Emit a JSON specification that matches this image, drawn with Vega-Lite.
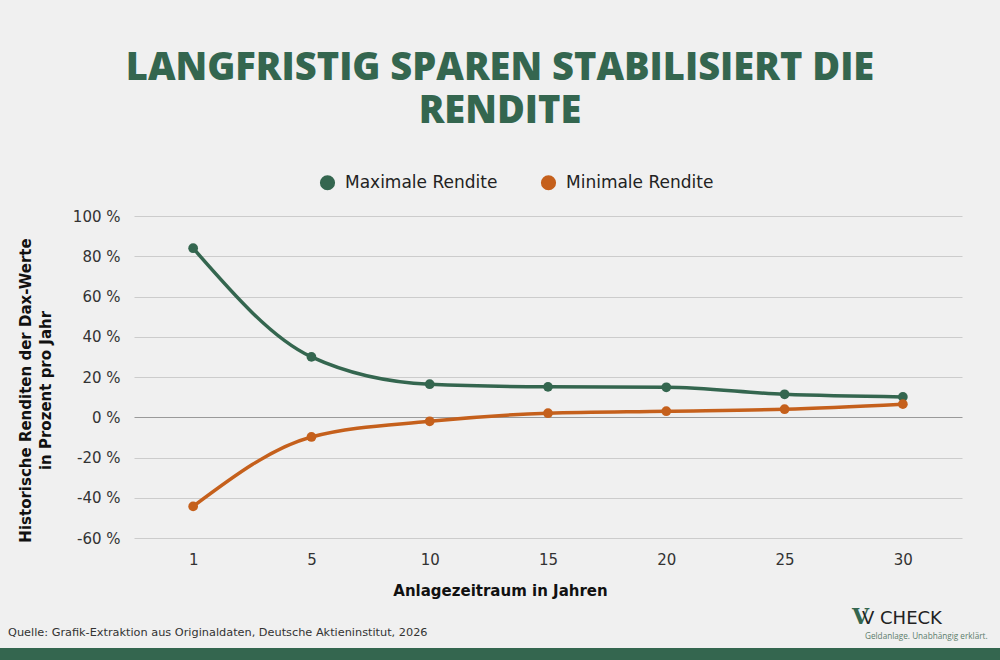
{
  "$schema": "https://vega.github.io/schema/vega-lite/v6.json",
  "width": 828,
  "height": 322,
  "autosize": {"type": "none"},
  "padding": {"left": 134, "top": 216, "right": 38, "bottom": 122},
  "background": "#F0F0F0",
  "title": {
    "text": ["LANGFRISTIG SPAREN STABILISIERT DIE", "RENDITE"],
    "anchor": "middle",
    "frame": "group",
    "dx": -48,
    "font": "Open Sans",
    "fontSize": 38,
    "fontWeight": 800,
    "lineHeight": 43,
    "color": "#34664F",
    "offset": 43
  },
  "config": {
    "view": {"stroke": null},
    "font": "DejaVu Sans",
    "axis": {"labelFont": "DejaVu Sans", "titleFont": "DejaVu Sans", "labelColor": "#333333", "titleColor": "#111111"}
  },
  "layer": [
    {
      "data": {
        "values": [
          {"jahre": 1, "serie": "Maximale Rendite", "rendite": 84},
          {"jahre": 5, "serie": "Maximale Rendite", "rendite": 30},
          {"jahre": 10, "serie": "Maximale Rendite", "rendite": 16.4},
          {"jahre": 15, "serie": "Maximale Rendite", "rendite": 15.1},
          {"jahre": 20, "serie": "Maximale Rendite", "rendite": 14.9},
          {"jahre": 25, "serie": "Maximale Rendite", "rendite": 11.4},
          {"jahre": 30, "serie": "Maximale Rendite", "rendite": 10.1},
          {"jahre": 1, "serie": "Minimale Rendite", "rendite": -44.3},
          {"jahre": 5, "serie": "Minimale Rendite", "rendite": -9.8},
          {"jahre": 10, "serie": "Minimale Rendite", "rendite": -2.0},
          {"jahre": 15, "serie": "Minimale Rendite", "rendite": 2.0},
          {"jahre": 20, "serie": "Minimale Rendite", "rendite": 3.0},
          {"jahre": 25, "serie": "Minimale Rendite", "rendite": 4.0},
          {"jahre": 30, "serie": "Minimale Rendite", "rendite": 6.5}
        ]
      },
      "encoding": {
        "x": {
          "field": "jahre",
          "type": "ordinal",
          "scale": {"type": "point", "padding": 0.5},
          "axis": {
            "title": "Anlagezeitraum in Jahren",
            "labelAngle": 0,
            "labelFontSize": 15,
            "labelPadding": 14,
            "ticks": false,
            "domain": false,
            "grid": false,
            "titleFontSize": 15,
            "titleFontWeight": 600,
            "titleX": 366,
            "titleY": 57,
            "titleAnchor": null,
            "titleAlign": "center",
            "titleBaseline": "alphabetic"
          }
        },
        "y": {
          "field": "rendite",
          "type": "quantitative",
          "scale": {"domain": [-60, 100], "nice": false, "zero": false},
          "axis": {
            "title": ["Historische Renditen der Dax-Werte", "in Prozent pro Jahr"],
            "values": [-60, -40, -20, 0, 20, 40, 60, 80, 100],
            "labelExpr": "datum.value + ' %'",
            "labelFontSize": 15,
            "labelPadding": 14,
            "ticks": false,
            "domain": false,
            "grid": true,
            "gridColor": {"condition": {"test": "datum.value === 0", "value": "#9a9a9a"}, "value": "#cccccc"},
            "gridWidth": 1.2,
            "titleFontSize": 15,
            "titleFontWeight": 600,
            "titleLineHeight": 20,
            "titleX": -109,
            "titleY": 174,
            "titleAngle": -90,
            "titleAlign": "center",
            "titleBaseline": "middle"
          }
        },
        "color": {
          "field": "serie",
          "type": "nominal",
          "scale": {"domain": ["Maximale Rendite", "Minimale Rendite"], "range": ["#34664F", "#C5601C"]},
          "legend": {
            "title": null,
            "orient": "none",
            "direction": "horizontal",
            "legendX": 185,
            "legendY": -42,
            "symbolType": "circle",
            "symbolSize": 230,
            "symbolStrokeWidth": 0,
            "labelFontSize": 17,
            "labelColor": "#222222",
            "labelFont": "DejaVu Sans",
            "labelOffset": 9,
            "columnPadding": 42,
            "encode": {
              "symbols": {"update": {"fill": {"scale": "color", "field": "value"}, "stroke": {"value": "transparent"}}}
            }
          }
        }
      },
      "layer": [
        {"mark": {"type": "line", "interpolate": "monotone", "strokeWidth": 3.5}},
        {"mark": {"type": "point", "filled": true, "size": 95, "opacity": 1}}
      ]
    },
    {
      "data": {"values": [{}]},
      "mark": {"type": "rect", "fill": "#34664F"},
      "encoding": {"x": {"value": -134}, "x2": {"value": 866}, "y": {"value": 432}, "y2": {"value": 444}}
    },
    {
      "data": {"values": [{}]},
      "mark": {"type": "text", "text": "Quelle: Grafik-Extraktion aus Originaldaten, Deutsche Aktieninstitut, 2026", "align": "left", "baseline": "alphabetic", "fontSize": 11.3, "font": "DejaVu Sans", "color": "#333333"},
      "encoding": {"x": {"value": -126}, "y": {"value": 420}}
    },
    {
      "data": {"values": [{}]},
      "mark": {"type": "text", "text": "V", "align": "left", "baseline": "alphabetic", "fontSize": 22, "font": "DejaVu Serif", "fontWeight": "bold", "color": "#34664F"},
      "encoding": {"x": {"value": 718}, "y": {"value": 408}}
    },
    {
      "data": {"values": [{}]},
      "mark": {"type": "text", "text": "V CHECK", "align": "left", "baseline": "alphabetic", "fontSize": 18, "font": "DejaVu Sans", "color": "#222222"},
      "encoding": {"x": {"value": 728}, "y": {"value": 408}}
    },
    {
      "data": {"values": [{}]},
      "mark": {"type": "text", "text": "Geldanlage. Unabhängig erklärt.", "align": "left", "baseline": "alphabetic", "fontSize": 8.2, "font": "Open Sans", "color": "#5C7D6C"},
      "encoding": {"x": {"value": 731}, "y": {"value": 423}}
    }
  ]
}
